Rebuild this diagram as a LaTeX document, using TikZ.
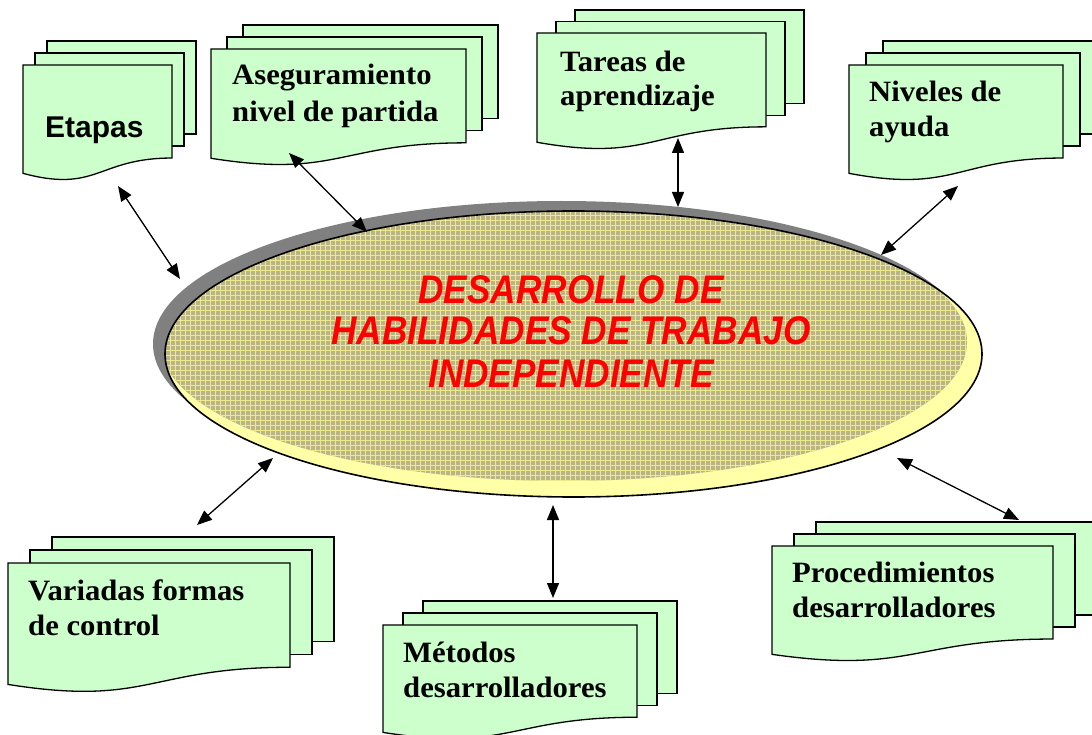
\documentclass[tikz,border=0pt]{standalone}
\usepackage{fontspec}
\setmainfont{Liberation Serif}
\newfontfamily\docfont[FakeStretch=1.04]{Liberation Serif}
\newfontfamily\etafont[FakeStretch=1.0]{Liberation Sans}
\newfontfamily\corefont[FakeStretch=0.88]{Liberation Sans}
\usetikzlibrary{arrows.meta,shapes.geometric}
\definecolor{docgreen}{RGB}{204,255,204}
\definecolor{rimyellow}{RGB}{255,255,168}
\definecolor{patbase}{RGB}{186,180,138}
\definecolor{patline}{RGB}{236,234,140}
\definecolor{shadowgray}{RGB}{128,128,128}
\definecolor{corered}{RGB}{255,0,0}
% #1 left, #2 top, #3 right, #4 height, #5 dx, #6 dy
\newcommand\docstack[6]{%
  \pgfmathsetmacro\dsB{#2+0.802*#4}%
  \pgfmathsetmacro\dsLB{#2+0.934*#4}%
  \pgfmathsetmacro\dsC{#2+1.107*#4}%
  \pgfmathsetmacro\dsM{(#1+#3)/2}%
  \draw[page] ({#1+2*#5},{#2-2*#6}) rectangle ({#3+2*#5},{\dsB-2*#6});
  \draw[page] ({#1+#5},{#2-#6}) rectangle ({#3+#5},{\dsB-#6});
  \draw[page] (#1,#2) -- (#3,#2) -- (#3,\dsB) .. controls (\dsM,\dsB) and (\dsM,\dsC) .. (#1,\dsLB) -- cycle;
}
\begin{document}
\begin{tikzpicture}[x=1pt,y=-1pt,
  page/.style={draw=black,fill=docgreen,line width=1.3pt,line join=miter},
  doctext/.style={anchor=base west,inner sep=0pt,font=\docfont\bfseries\fontsize{29.5}{35}\selectfont},
  etatext/.style={anchor=base west,inner sep=0pt,font=\etafont\bfseries\fontsize{30}{35}\selectfont},
  coretext/.style={anchor=base,inner sep=0pt,text=corered,font=\corefont\bfseries\itshape\fontsize{40}{42}\selectfont},
  link/.style={{Triangle[length=15pt,width=12pt]}-{Triangle[length=15pt,width=12pt]},line width=1.3pt}]
\useasboundingbox (0,0) rectangle (1092,735);
\fill[white] (0,0) rectangle (1092,735);

% document stacks
\docstack{23}{65}{172}{116}{12}{12}
\docstack{211}{49}{466}{117}{16}{12}
\docstack{537}{33}{766}{117}{19}{11.5}
\docstack{849}{65}{1063}{116}{17}{12}
\docstack{8}{563}{290}{130}{22}{13}
\docstack{383}{625}{637}{115}{20}{12}
\docstack{772}{546}{1053}{116}{22}{12}

\node[etatext] (etapas) at (45,138) {Etapas};
\node[doctext] (aseg1) at (232,85) {Aseguramiento};
\node[doctext] (aseg2) at (232,122) {nivel de partida};
\node[doctext] (tar1) at (560,72) {Tareas de};
\node[doctext] (tar2) at (560,106) {aprendizaje};
\node[doctext] (niv1) at (869,102) {Niveles de};
\node[doctext] (niv2) at (869,137) {ayuda};
\node[doctext] (var1) at (28,600) {Variadas formas};
\node[doctext] (var2) at (28,635) {de control};
\node[doctext] (met1) at (403,662) {Métodos};
\node[doctext] (met2) at (403,697) {desarrolladores};
\node[doctext] (pro1) at (792,582) {Procedimientos};
\node[doctext] (pro2) at (792,617) {desarrolladores};

% central ellipse
\fill[shadowgray] (561.5,344) ellipse [x radius=408.5pt, y radius=143pt];
\begin{scope}
  \clip (573.5,354) ellipse [x radius=408.5pt, y radius=143pt];
  \fill[rimyellow] (150,520) rectangle (1000,190);
  \clip (563.5,342) ellipse [x radius=403.5pt, y radius=139pt];
  \fill[patbase] (150,520) rectangle (1000,190);
  \draw[patline, line width=0.9pt, step=5pt] (150,520) grid (1000,190);
\end{scope}
\node[draw=black, line width=1.6pt, ellipse, minimum width=817pt, minimum height=286pt, inner sep=0pt] (core) at (573.5,354) {};
\node[coretext] (c1) at (571,303) {DESARROLLO DE};
\node[coretext] (c2) at (571,344) {HABILIDADES DE TRABAJO};
\node[coretext] (c3) at (571,387) {INDEPENDIENTE};

% connectors
\coordinate (a1) at (118,186); \coordinate (b1) at (180,279);
\coordinate (a2) at (289,153); \coordinate (b2) at (367,232);
\coordinate (a3) at (678,138); \coordinate (b3) at (678,207);
\coordinate (a4) at (958,186); \coordinate (b4) at (881,255);
\coordinate (a5) at (897,458); \coordinate (b5) at (1019,520);
\coordinate (a6) at (553,505); \coordinate (b6) at (553,598);
\coordinate (a7) at (197,525); \coordinate (b7) at (273,458);
\draw[link] (a1) -- (b1);
\draw[link] (a2) -- (b2);
\draw[link] (a3) -- (b3);
\draw[link] (a4) -- (b4);
\draw[link] (a5) -- (b5);
\draw[link] (a6) -- (b6);
\draw[link] (a7) -- (b7);
\end{tikzpicture}
\end{document}
